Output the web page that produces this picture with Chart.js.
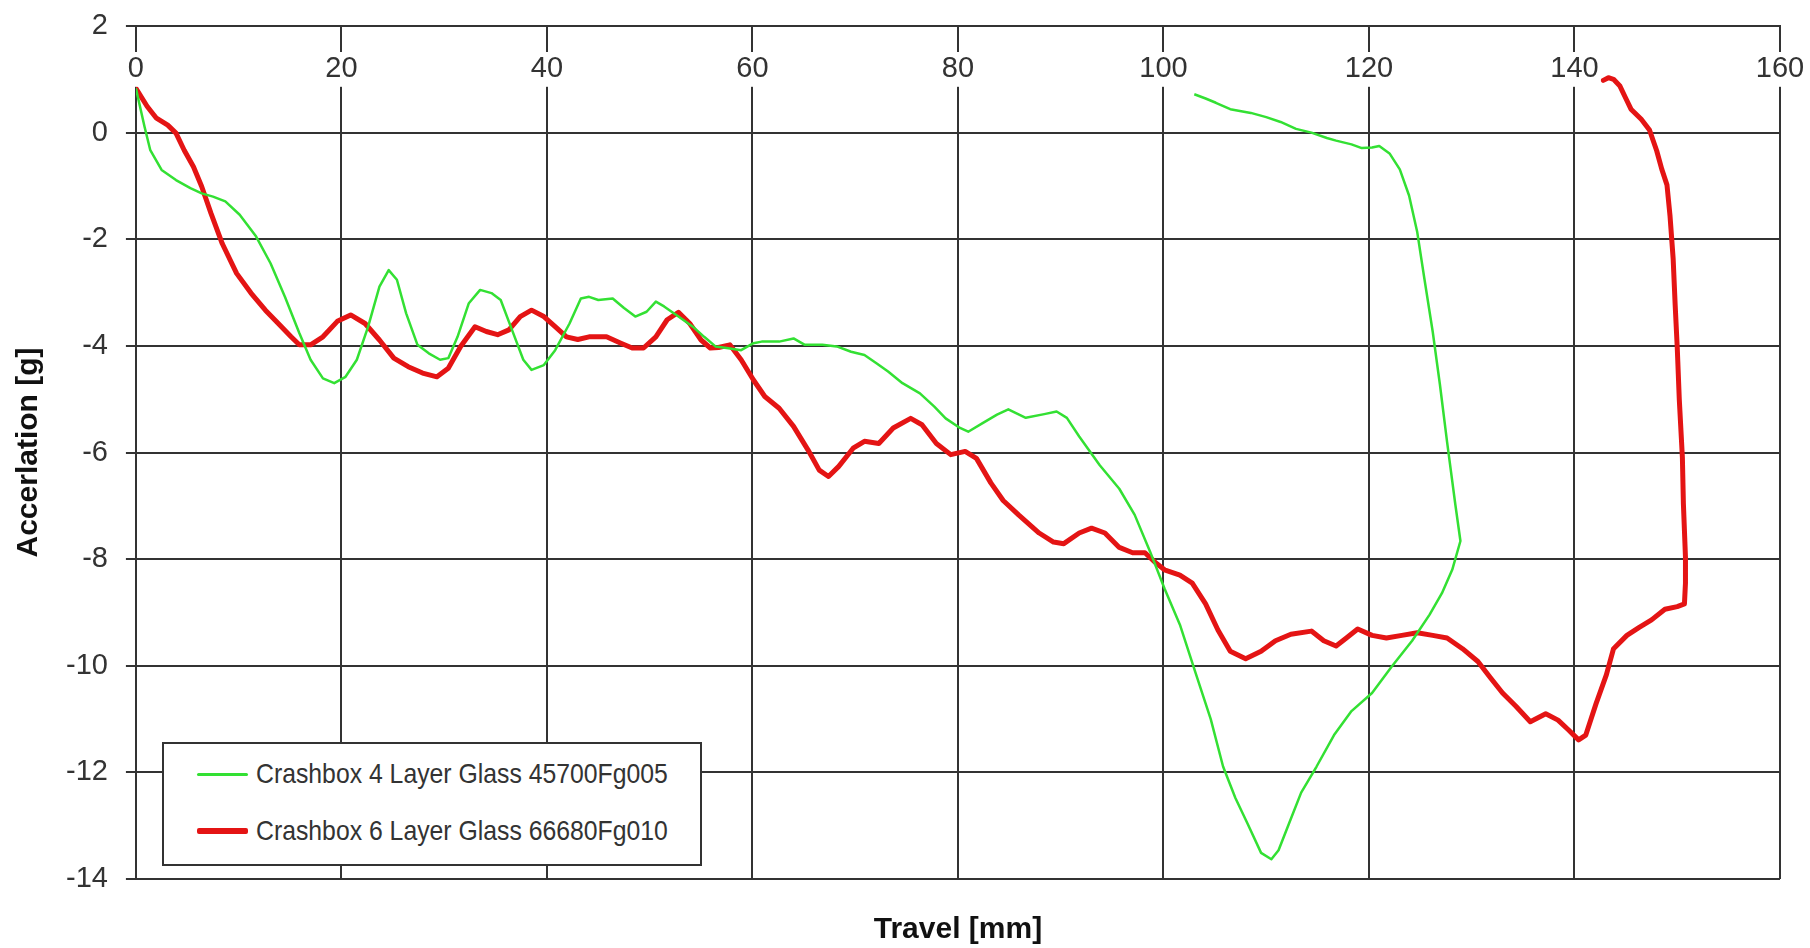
<!DOCTYPE html>
<html>
<head>
<meta charset="utf-8">
<script src="https://cdn.jsdelivr.net/npm/chart.js@4.4.1/dist/chart.umd.min.js"></script>
<style>
  html, body { margin: 0; padding: 0; background: #ffffff; }
  #wrap { position: relative; width: 1810px; height: 948px; }
  #chart { position: absolute; left: 0; top: 0; }
  #legend {
    position: absolute; left: 162px; top: 742px; width: 536px; height: 120px;
    border: 2px solid #333; background: #fff; box-sizing: content-box;
    font-family: "Liberation Sans", Arial, sans-serif; font-size: 28px; color: #333;
  }
  .item { position: absolute; left: 33px; height: 32px; display: flex; align-items: center; white-space: nowrap; }
  .swatch { width: 51px; margin-right: 8px; border-radius: 2px; flex: none; }
  .ltext { display: inline-block; transform: scaleX(0.885); transform-origin: left center; }
</style>
</head>
<body>
<div id="wrap">
  <canvas id="chart" width="1810" height="948"></canvas>
  <div id="legend"></div>
</div>
<script>
// ---- data ----
const seriesNames = ['Crashbox 4 Layer Glass 45700Fg005', 'Crashbox 6 Layer Glass 66680Fg010'];

const greenX = [
  0, 0.84, 1.4, 2.5, 3.9, 5.3, 6.4, 7.5, 8.7, 10.1,
  11.7, 13.1, 14.5, 15.9, 17.0, 18.2, 19.3, 20.4, 21.5, 22.6,
  23.7, 24.6, 25.4, 26.3, 27.4, 28.5, 29.6, 30.4, 31.3, 32.4,
  33.5, 34.6, 35.5, 36.6, 37.7, 38.5, 39.7, 40.8, 42.2, 43.3,
  44.1, 45.0, 46.4, 47.5, 48.6, 49.7, 50.6, 51.4, 52.8, 54.2,
  55.3, 56.4, 57.5, 58.9, 60.1, 60.9, 62.6, 64.0, 65.1, 66.8,
  68.2, 69.6, 70.9, 72.1, 73.2, 74.6, 76.3, 77.7, 78.8, 80.2,
  81.0, 82.4, 83.8, 84.9, 86.6, 88.4, 89.6, 90.6, 91.8, 93.8,
  95.7, 97.2, 98.7, 100.1, 101.6, 103.1, 104.6, 105.8, 107.0, 108.2,
  109.5, 110.5, 111.2, 112.4, 113.4, 114.9, 116.6, 118.3, 120.3, 122.2,
  124.2, 125.9, 127.1, 128.1, 128.9, 128.4, 127.6, 126.9, 126.2, 125.4,
  124.7, 123.9, 123.0, 122.0, 121.0, 120.3, 119.3, 118.3, 116.8, 115.9,
  114.4, 112.9, 111.4, 110.0, 108.5, 106.5, 105.1, 104.1, 103.0
];
const greenY = [
  0.83, 0.11, -0.33, -0.7, -0.89, -1.04, -1.14, -1.2, -1.29, -1.54,
  -1.95, -2.45, -3.08, -3.76, -4.26, -4.61, -4.7, -4.58, -4.26, -3.64,
  -2.89, -2.58, -2.76, -3.39, -3.98, -4.14, -4.26, -4.23, -3.83, -3.2,
  -2.95, -3.01, -3.14, -3.7, -4.26, -4.45, -4.36, -4.08, -3.58, -3.11,
  -3.08, -3.14, -3.11, -3.29, -3.45, -3.36, -3.17, -3.26, -3.45, -3.64,
  -3.83, -4.01, -4.04, -4.08, -3.95, -3.92, -3.92, -3.86, -3.98, -3.98,
  -4.01, -4.11, -4.17, -4.33, -4.48, -4.7, -4.89, -5.14, -5.36, -5.54,
  -5.61, -5.45, -5.29, -5.19, -5.35, -5.28, -5.23, -5.35, -5.7, -6.24,
  -6.68, -7.17, -7.86, -8.55, -9.23, -10.12, -11.0, -11.89, -12.48, -12.97,
  -13.51, -13.63, -13.46, -12.87, -12.38, -11.89, -11.3, -10.85, -10.51, -10.02,
  -9.53, -9.04, -8.64, -8.2, -7.66, -6.97, -5.8, -4.72, -3.73, -2.75,
  -1.87, -1.18, -0.69, -0.39, -0.25, -0.28, -0.29, -0.22, -0.15, -0.1,
  0.0, 0.07, 0.2, 0.29, 0.37, 0.44, 0.56, 0.64, 0.72
];

const redX = [
  0, 1.1, 2.0, 3.1, 3.9, 4.7, 5.6, 6.4, 7.3, 8.4,
  9.8, 11.2, 12.6, 14.0, 15.1, 15.9, 17.0, 18.2, 19.6, 20.9,
  22.3, 23.7, 25.1, 26.5, 27.9, 29.3, 30.4, 31.6, 33.0, 34.1,
  35.2, 36.3, 37.4, 38.5, 39.7, 40.8, 41.9, 43.0, 44.1, 45.8,
  47.2, 48.3, 49.4, 50.6, 51.7, 52.8, 53.9, 55.0, 55.9, 56.7,
  57.8, 58.9, 60.1, 61.2, 62.6, 64.0, 65.4, 66.5, 67.4, 68.4,
  69.8, 70.9, 72.3, 73.7, 75.4, 76.5, 77.9, 79.3, 80.7, 81.8,
  83.2, 84.4, 85.9, 87.9, 89.3, 90.3, 91.8, 93.0, 94.3, 95.7,
  97.0, 98.2, 99.2, 100.1, 101.6, 102.8, 104.1, 105.3, 106.5, 108.0,
  109.5, 110.9, 112.4, 114.4, 115.6, 116.8, 117.8, 118.9, 120.3, 121.7,
  123.2, 124.7, 126.2, 127.6, 129.1, 130.6, 131.8, 133.0, 134.3, 135.7,
  137.2, 138.4, 139.4, 140.4, 141.1, 142.1, 143.1, 143.8, 145.1, 146.3,
  147.5, 148.8, 150.0, 150.7, 150.8, 150.8, 150.6, 150.5, 150.2, 150.0,
  149.8, 149.6, 149.3, 149.0, 148.5, 148.0, 147.3, 146.5, 145.5, 145.0,
  144.4, 143.8, 143.3, 142.8
];
const redY = [
  0.83, 0.49, 0.27, 0.14, -0.01, -0.33, -0.64, -1.01, -1.51, -2.08,
  -2.64, -3.01, -3.33, -3.61, -3.83, -3.98, -3.98, -3.83, -3.54, -3.42,
  -3.58, -3.89, -4.23, -4.39, -4.51, -4.58, -4.42, -4.01, -3.64, -3.73,
  -3.79, -3.7, -3.45, -3.33, -3.45, -3.64, -3.83, -3.88, -3.83, -3.83,
  -3.95, -4.04, -4.04, -3.83, -3.51, -3.37, -3.58, -3.89, -4.04, -4.03,
  -3.98, -4.26, -4.64, -4.95, -5.17, -5.51, -5.95, -6.33, -6.45, -6.26,
  -5.92, -5.79, -5.83, -5.54, -5.36, -5.48, -5.83, -6.04, -5.98, -6.11,
  -6.57, -6.9, -7.17, -7.51, -7.68, -7.71, -7.51, -7.42, -7.51, -7.78,
  -7.88, -7.88, -8.06, -8.2, -8.3, -8.45, -8.84, -9.33, -9.73, -9.87,
  -9.73, -9.53, -9.41, -9.35, -9.53, -9.63, -9.48, -9.31, -9.43, -9.48,
  -9.43, -9.38, -9.43, -9.48, -9.68, -9.92, -10.22, -10.51, -10.76, -11.05,
  -10.9, -11.02, -11.2, -11.39, -11.3, -10.71, -10.17, -9.68, -9.43, -9.28,
  -9.14, -8.94, -8.89, -8.84, -8.45, -7.96, -6.97, -6.09, -5.01, -4.03,
  -3.24, -2.36, -1.57, -0.98, -0.69, -0.34, 0.05, 0.25, 0.44, 0.64,
  0.88, 1.0, 1.03, 0.98
];

const xMin = 0, xMax = 160, xStep = 20;
const yMin = -14, yMax = 2, yStep = 2;
const xTitle = 'Travel [mm]';
const yTitle = 'Accerlation [g]';

// ---- chart ----
const toPoints = (xs, ys) => xs.map((x, i) => ({ x: x, y: ys[i] }));
const gridColor = '#333333';
const tickFont = { family: '"Liberation Sans", Arial, sans-serif', size: 29 };
const titleFont = { family: '"Liberation Sans", Arial, sans-serif', size: 30, weight: 'bold' };

const chart = new Chart(document.getElementById('chart'), {
  type: 'line',
  data: {
    datasets: [
      { label: seriesNames[0], data: toPoints(greenX, greenY), borderColor: '#33e033',
        backgroundColor: '#33e033', borderWidth: 2.5, pointRadius: 0, tension: 0, fill: false,
        borderJoinStyle: 'round' },
      { label: seriesNames[1], data: toPoints(redX, redY), borderColor: '#e41414',
        backgroundColor: '#e41414', borderWidth: 5, pointRadius: 0, tension: 0, fill: false,
        borderJoinStyle: 'round', borderCapStyle: 'round' }
    ]
  },
  options: {
    responsive: false,
    animation: false,
    devicePixelRatio: 1,
    layout: { padding: { left: 4, top: 26, right: 30, bottom: 0 } },
    plugins: { legend: { display: false }, tooltip: { enabled: false } },
    scales: {
      x: {
        type: 'linear', position: { y: yMax }, min: xMin, max: xMax,
        afterFit: (s) => { s.paddingLeft = 0; s.paddingRight = 0; },
        ticks: { stepSize: xStep, font: tickFont, color: '#333', padding: 26, maxRotation: 0,
                 showLabelBackdrop: true, backdropColor: '#ffffff',
                 backdropPadding: { top: 0, bottom: 0, left: 2, right: 2 }, z: 1 },
        grid: { color: gridColor, lineWidth: 2, drawTicks: false },
        border: { color: gridColor, width: 2 }
      },
      xt: {
        type: 'linear', position: 'bottom', display: true,
        ticks: { display: false }, grid: { display: false, drawTicks: false }, border: { display: false },
        title: { display: true, text: xTitle, font: titleFont, color: '#111', padding: { top: 33, bottom: 0 } }
      },
      y: {
        type: 'linear', position: 'left', min: yMin, max: yMax,
        afterFit: (s) => { s.paddingTop = 0; s.paddingBottom = 0; },
        ticks: { stepSize: yStep, font: tickFont, color: '#333', padding: 18 },
        grid: { color: gridColor, lineWidth: 2, drawTicks: true, tickLength: 10 },
        border: { color: gridColor, width: 2 },
        title: { display: true, text: yTitle, font: titleFont, color: '#111', padding: { top: 7, bottom: 1 } }
      }
    }
  }
});

// ---- HTML legend built from the chart's datasets ----
const legendEl = document.getElementById('legend');
chart.data.datasets.forEach((ds, i) => {
  const row = document.createElement('div');
  row.className = 'item';
  row.style.top = (i === 0 ? 14 : 71) + 'px';
  const sw = document.createElement('span');
  sw.className = 'swatch';
  sw.style.background = ds.borderColor;
  sw.style.height = (i === 0 ? 3 : 6) + 'px';
  const tx = document.createElement('span');
  tx.className = 'ltext';
  tx.textContent = ds.label;
  row.appendChild(sw); row.appendChild(tx);
  legendEl.appendChild(row);
});
</script>
</body>
</html>
